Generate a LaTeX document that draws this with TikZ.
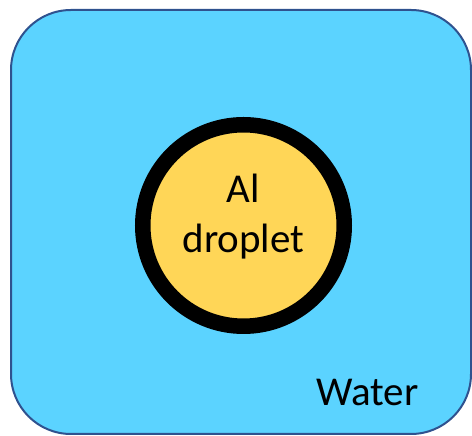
\documentclass[tikz,border=0pt]{standalone}
\usepackage{fontspec}
\setmainfont{Carlito}
\usepackage{xcolor}
\usetikzlibrary{positioning}
\definecolor{waterblue}{RGB}{91,211,255}
\definecolor{edgeblue}{RGB}{47,82,143}
\definecolor{dropyellow}{RGB}{255,214,87}

\begin{document}
\begin{tikzpicture}[x=1pt, y=1pt,
        tank/.style={draw=edgeblue, line width=2pt, fill=waterblue, rounded corners=60pt},
        droplet/.style={circle, draw=black, line width=15.5pt, fill=dropyellow, minimum size=201.5pt, inner sep=0pt},
        label/.style={text=black, font=\fontsize{41}{50}\selectfont, align=center, inner sep=0pt}]
        \useasboundingbox (0,0) rectangle (472,436);

        \draw [tank] (11,2) rectangle (471,426);
        \node [droplet] (drop) at (243.5,210.5) {};
        \node [label] (droptext) at (243.5,219.5) {Al\\droplet};
        \node [label, anchor=base west] (water) at (316,30) {Water};
    \end{tikzpicture}
\end{document}
